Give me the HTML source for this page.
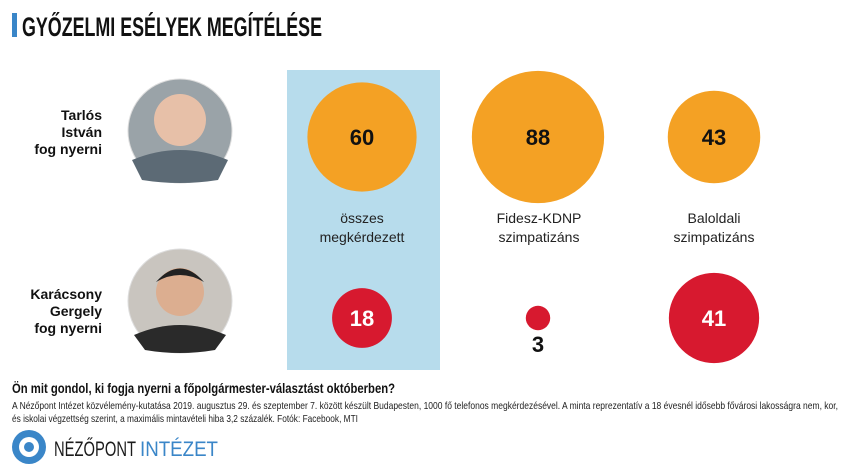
<!DOCTYPE html>
<html><head><meta charset="utf-8"><style>
body{margin:0;background:#fff;width:849px;height:474px;overflow:hidden;font-family:"Liberation Sans",sans-serif}
svg{display:block}
</style></head><body>
<svg width="849" height="474" viewBox="0 0 849 474">
<rect x="12" y="13" width="5" height="24" fill="#3a86c8"/>
<text x="22" y="36" font-family="Liberation Sans Narrow, Liberation Sans, sans-serif" font-weight="bold" font-size="27" textLength="300" lengthAdjust="spacingAndGlyphs" fill="#111">GYŐZELMI ESÉLYEK MEGÍTÉLÉSE</text>
<rect x="287" y="70" width="153" height="300" fill="#b7dcec"/>
<g font-weight="bold" font-size="14" text-anchor="end" fill="#111">
<text x="102" y="120"><tspan x="102">Tarlós</tspan><tspan x="102" dy="17">István</tspan><tspan x="102" dy="17">fog nyerni</tspan></text>
<text x="102" y="299"><tspan x="102">Karácsony</tspan><tspan x="102" dy="17">Gergely</tspan><tspan x="102" dy="17">fog nyerni</tspan></text>
</g>
<circle cx="180" cy="131" r="52" fill="#9aa3a8" stroke="#ddd"/>
<circle cx="180" cy="120" r="26" fill="#e7c0a8"/><path d="M132 160 Q180 140 228 160 L218 180 Q180 186 142 180Z" fill="#5c6a75"/>
<circle cx="180" cy="301" r="52" fill="#c9c5bf" stroke="#ddd"/>
<circle cx="180" cy="292" r="24" fill="#dcae90"/><path d="M156 282 Q180 255 204 282 Q180 268 156 282Z" fill="#222"/><path d="M134 335 Q180 315 226 335 L215 350 Q180 356 145 350Z" fill="#2a2a2a"/>
<g id="bubbles"></g>
<g font-size="14" text-anchor="middle" fill="#222">
<text x="362" y="223"><tspan x="362">összes</tspan><tspan x="362" dy="19">megkérdezett</tspan></text>
<text x="539" y="223"><tspan x="539">Fidesz-KDNP</tspan><tspan x="539" dy="19">szimpatizáns</tspan></text>
<text x="714" y="223"><tspan x="714">Baloldali</tspan><tspan x="714" dy="19">szimpatizáns</tspan></text>
</g>
<text x="12" y="393" font-family="Liberation Sans Narrow, Liberation Sans, sans-serif" font-size="14" font-weight="bold" fill="#111" textLength="383" lengthAdjust="spacingAndGlyphs">Ön mit gondol, ki fogja nyerni a főpolgármester-választást októberben?</text>
<text x="12" y="409" font-family="Liberation Sans Narrow, Liberation Sans, sans-serif" font-size="10.5" fill="#222" textLength="826" lengthAdjust="spacingAndGlyphs">A Nézőpont Intézet közvélemény-kutatása 2019. augusztus 29. és szeptember 7. között készült Budapesten, 1000 fő telefonos megkérdezésével. A minta reprezentatív a 18 évesnél idősebb fővárosi lakosságra nem, kor,</text>
<text x="12" y="422" font-family="Liberation Sans Narrow, Liberation Sans, sans-serif" font-size="10.5" fill="#222" textLength="346" lengthAdjust="spacingAndGlyphs">és iskolai végzettség szerint, a maximális mintavételi hiba 3,2 százalék. Fotók: Facebook, MTI</text>
<g>
<circle cx="29" cy="447" r="17" fill="#3a86c8"/><circle cx="29" cy="447" r="10" fill="#fff"/><circle cx="29" cy="447" r="5" fill="#3a86c8"/>
<text x="54" y="456" font-family="Liberation Sans Narrow, Liberation Sans, sans-serif" font-size="21" fill="#1b1b1b" textLength="82" lengthAdjust="spacingAndGlyphs">NÉZŐPONT</text>
<text x="140" y="456" font-family="Liberation Sans Narrow, Liberation Sans, sans-serif" font-size="21" fill="#3a86c8" textLength="78" lengthAdjust="spacingAndGlyphs">INTÉZET</text>
</g>
</svg>
<script>
const categories=["összes megkérdezett","Fidesz-KDNP szimpatizáns","Baloldali szimpatizáns"];
const tarlosValues=[60,88,43];
const karacsonyValues=[18,3,41];
const xCenter=i=>362+i*176;
const rScale=v=>7.05*Math.sqrt(v);
const g=document.getElementById('bubbles');
const NS="http://www.w3.org/2000/svg";
function bubble(v,i,cy,color,name){
  const c=document.createElementNS(NS,'circle');
  c.setAttribute('cx',xCenter(i));c.setAttribute('cy',cy);c.setAttribute('r',rScale(v));c.setAttribute('fill',color);
  
  
  g.appendChild(c);
  const t=document.createElementNS(NS,'text');
  const r=rScale(v);const inside=r>20;
  t.setAttribute('x',xCenter(i));t.setAttribute('y',inside?cy+8:cy+r+22);
  t.setAttribute('text-anchor','middle');t.setAttribute('font-size','22');t.setAttribute('font-weight','bold');
  t.setAttribute('fill',inside&&color!=='#f4a124'?'#fff':'#111');
  t.textContent=v;
  
  
  g.appendChild(t);
}
tarlosValues.forEach((v,i)=>bubble(v,i,137,'#f4a124','tarlos'));
karacsonyValues.forEach((v,i)=>bubble(v,i,318,'#d7192f','karacsony'));
</script>
</body></html>
